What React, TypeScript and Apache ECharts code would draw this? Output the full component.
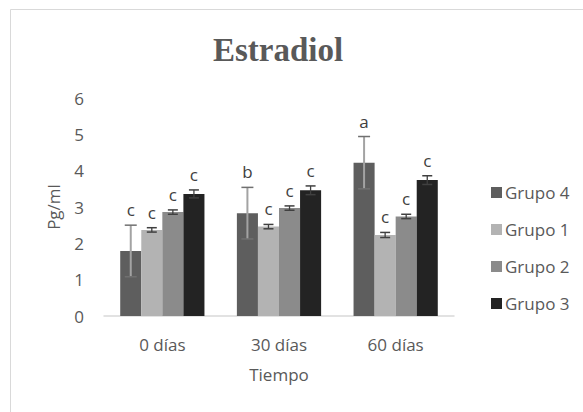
import React, { useEffect, useRef } from "react";
import * as echarts from "echarts";

const categories = ["0 días", "30 días", "60 días"];
const seriesNames = ["Grupo 4", "Grupo 1", "Grupo 2", "Grupo 3"];
const grupo4 = [1.79, 2.83, 4.22];
const grupo1 = [2.37, 2.46, 2.23];
const grupo2 = [2.86, 2.97, 2.74];
const grupo3 = [3.36, 3.46, 3.74];
const err4 = [0.71, 0.71, 0.72];
const err1 = [0.06, 0.06, 0.07];
const err2 = [0.06, 0.06, 0.06];
const err3 = [0.11, 0.12, 0.12];
const letters4 = ["c", "b", "a"];
const letters1 = ["c", "c", "c"];
const letters2 = ["c", "c", "c"];
const letters3 = ["c", "c", "c"];
const yTicks = [0, 1, 2, 3, 4, 5, 6];

const colors = ["#5e5e5e", "#b3b3b3", "#8b8b8b", "#232323"];
const values = [grupo4, grupo1, grupo2, grupo3];
const errors = [err4, err1, err2, err3];
const letters = [letters4, letters1, letters2, letters3];
const FONT = "'Open Sans', sans-serif";
const FS = 17;
const CAT_GAP = 0.278;

export default function App() {
  const ref = useRef<HTMLDivElement>(null);
  useEffect(() => {
    if (!ref.current) return;
    const chart = echarts.init(ref.current, null, { renderer: "svg" });
    const n = seriesNames.length;
    const barSeries = seriesNames.map((name, i) => ({
      name,
      type: "bar",
      data: values[i],
      barGap: "0%",
      barCategoryGap: CAT_GAP * 100 + "%",
      itemStyle: { color: colors[i] },
    }));
    const errSeries = seriesNames.map((name, i) => ({
      name,
      type: "custom",
      z: 5,
      data: values[i].map((v, k) => [k, v - errors[i][k], v + errors[i][k], k]),
      encode: { x: 0, y: [1, 2] },
      renderItem: (params: any, api: any) => {
        const k = api.value(0);
        const lo = api.coord([k, api.value(1)]);
        const hi = api.coord([k, api.value(2)]);
        const band = api.size([1, 0])[0];
        const groupW = band * (1 - CAT_GAP);
        const bw = groupW / n;
        const x = lo[0] - groupW / 2 + bw * (i + 0.5);
        const isBig = i === 0;
        const vColor = isBig ? "#a3a3a3" : "#404040";
        const cColor = isBig ? "#707070" : "#404040";
        const capW = isBig ? 12 : 10;
        return {
          type: "group",
          children: [
            { type: "line", shape: { x1: x, y1: lo[1], x2: x, y2: hi[1] }, style: { stroke: vColor, lineWidth: isBig ? 2 : 1.3 } },
            { type: "line", shape: { x1: x - capW / 2, y1: hi[1], x2: x + capW / 2, y2: hi[1] }, style: { stroke: cColor, lineWidth: 1.5 } },
            { type: "line", shape: { x1: x - capW / 2, y1: lo[1], x2: x + capW / 2, y2: lo[1] }, style: { stroke: cColor, lineWidth: 1.5 } },
            {
              type: "text",
              x,
              y: hi[1] - 7,
              style: { text: letters[i][k], fill: "#404040", font: `${FS}px ${FONT}`, align: "center", verticalAlign: "bottom" },
            },
          ],
        };
      },
    }));
    chart.setOption({
      animation: false,
      title: {
        text: "Estradiol",
        left: 273,
        top: 28,
        textAlign: "center",
        textStyle: { fontFamily: "'Liberation Serif', 'Times New Roman', serif", fontWeight: "bold", fontSize: 33, color: "#595959" },
      },
      graphic: [
        { type: "rect", shape: { x: 10.5, y: 9.5, width: 700, height: 600 }, style: { fill: "none", stroke: "#d9d9d9", lineWidth: 1 }, silent: true },
      ],
      legend: {
        orient: "vertical",
        left: 486,
        top: 179,
        itemWidth: 11,
        itemHeight: 11,
        itemGap: 20,
        icon: "rect",
        data: seriesNames,
        textStyle: { fontFamily: FONT, fontSize: FS, color: "#595959", padding: [0, 0, 0, -2] },
      },
      grid: { left: 104, right: 129, top: 98, bottom: 96 },
      xAxis: {
        type: "category",
        data: categories,
        name: "Tiempo",
        nameLocation: "middle",
        nameGap: 50,
        nameTextStyle: { fontFamily: FONT, fontSize: FS, color: "#595959" },
        axisLine: { lineStyle: { color: "#d9d9d9", width: 1.5 } },
        axisTick: { show: false },
        axisLabel: { fontFamily: FONT, fontSize: FS, color: "#595959", margin: 20 },
      },
      yAxis: {
        type: "value",
        min: yTicks[0],
        max: yTicks[yTicks.length - 1],
        interval: 1,
        name: "Pg/ml",
        nameLocation: "middle",
        nameGap: 42,
        nameTextStyle: { fontFamily: FONT, fontSize: FS, color: "#595959" },
        axisLine: { show: false },
        axisTick: { show: false },
        splitLine: { show: false },
        axisLabel: { fontFamily: FONT, fontSize: FS, color: "#595959", margin: 20 },
      },
      series: [...barSeries, ...errSeries],
    });
    return () => chart.dispose();
  }, []);
  return <div ref={ref} style={{ position: "fixed", left: 0, top: 0, width: 583, height: 412, background: "#fff" }} />;
}
